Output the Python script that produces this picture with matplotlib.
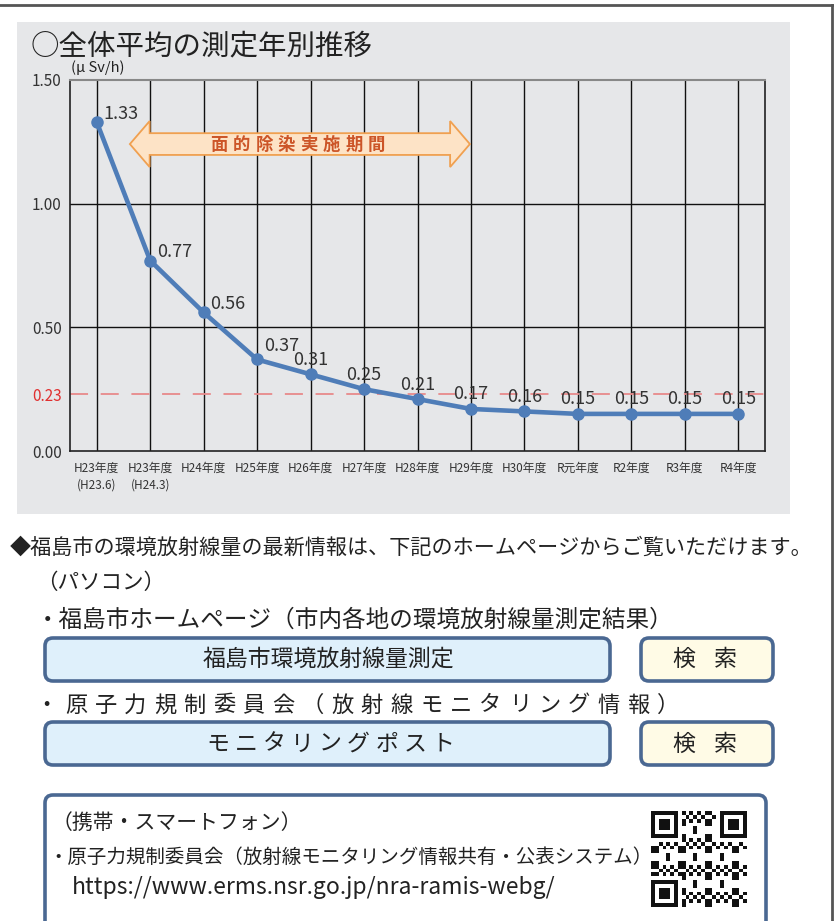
import numpy as np
import matplotlib.pyplot as plt
from matplotlib.patches import Rectangle, FancyBboxPatch, Polygon

plt.rcParams['font.family'] = ['Noto Sans CJK JP', 'DejaVu Sans']

# data
categories = ['H23年度\n(H23.6)', 'H23年度\n(H24.3)', 'H24年度', 'H25年度', 'H26年度',
              'H27年度', 'H28年度', 'H29年度', 'H30年度', 'R元年度', 'R2年度', 'R3年度', 'R4年度']
values = [1.33, 0.77, 0.56, 0.37, 0.31, 0.25, 0.21, 0.17, 0.16, 0.15, 0.15, 0.15, 0.15]
yticks = [0.0, 0.23, 0.5, 1.0, 1.5]
guide_value = 0.23
period_label = '面的除染実施期間'

W, H = 839, 921
fig = plt.figure(figsize=(W / 100, H / 100), dpi=100)

# background layer in pixel coordinates
bg = fig.add_axes([0, 0, 1, 1], zorder=0)
bg.set_xlim(0, W)
bg.set_ylim(H, 0)
bg.axis('off')

# page frame
bg.plot([0, 832], [5, 5], color='#555555', lw=2)
bg.plot([832, 832], [5, H], color='#555555', lw=2)

# gray panel
bg.add_patch(Rectangle((17, 22), 773, 492, facecolor='#e6e7e9', edgecolor='none'))

bg.text(31, 46, '○全体平均の測定年別推移', fontsize=20.5, va='center', ha='left', color='#222222')
bg.text(71, 68, '(μ Sv/h)', fontsize=10.5, va='center', ha='left', color='#222222')


def spaced(txt, x0, step, y, size, **kw):
    for i, ch in enumerate(txt):
        bg.text(x0 + i * step, y, ch, fontsize=size, ha='center', va='center', **kw)


def rbox(x, y, w, h, fc):
    bg.add_patch(FancyBboxPatch((x, y), w, h, boxstyle='round,pad=0,rounding_size=8',
                                facecolor=fc, edgecolor='#4a6892', lw=2.6))


# text below the chart
bg.text(10, 548, '◆福島市の環境放射線量の最新情報は、下記のホームページからご覧いただけます。',
        fontsize=15.2, va='center', ha='left', color='#222222')
bg.text(36, 583, '（パソコン）', fontsize=15.5, va='center', ha='left', color='#222222')
bg.text(36, 620, '・福島市ホームページ（市内各地の環境放射線量測定結果）', fontsize=17,
        va='center', ha='left', color='#222222')

rbox(45, 638, 565, 43, '#dff0fb')
bg.text(328, 659, '福島市環境放射線量測定', fontsize=16.5, va='center', ha='center', color='#222222')
rbox(641, 638, 132, 43, '#fffbe6')
spaced('検索', 684, 41, 659, 16.5, color='#222222')

spaced('・原子力規制委員会（放射線モニタリング情報）', 46.4, 29.6, 705, 16, color='#222222')

rbox(45, 722, 565, 43, '#dff0fb')
spaced('モニタリングポスト', 218, 28.1, 744, 16.5, color='#222222')
rbox(641, 722, 132, 43, '#fffbe6')
spaced('検索', 684, 41, 744, 16.5, color='#222222')

rbox(45, 795, 721, 160, '#ffffff')
bg.text(52, 823, '（携帯・スマートフォン）', fontsize=15, va='center', ha='left', color='#222222')
bg.text(48, 857, '・原子力規制委員会（放射線モニタリング情報共有・公表システム）', fontsize=14,
        va='center', ha='left', color='#222222')
bg.text(72, 887, 'https://www.erms.nsr.go.jp/nra-ramis-webg/', fontsize=16.5,
        va='center', ha='left', color='#222222')

# QR-like code block
n = 25
qx, qy, cell = 651, 811, 96 / n
grid = np.zeros((n, n), dtype=bool)
for i in range(n):
    for j in range(n):
        grid[i, j] = ((i * i * 3 + j * j * 5 + i * j * 7 + i + 2 * j) % 7) < 3
for (r0, c0) in [(0, 0), (0, n - 7), (n - 7, 0)]:
    for r in range(-1, 8):
        for c in range(-1, 8):
            rr, cc = r0 + r, c0 + c
            if 0 <= rr < n and 0 <= cc < n:
                ring = max(abs(r - 3), abs(c - 3))
                grid[rr, cc] = ring in (0, 1, 3)
for i in range(n):
    for j in range(n):
        if grid[i, j]:
            bg.add_patch(Rectangle((qx + j * cell, qy + i * cell), cell, cell,
                                   facecolor='#111111', edgecolor='none'))

# chart axes
ax = fig.add_axes([70 / W, 1 - 451 / H, 695 / W, 371 / H], zorder=1)
ax.set_facecolor('#e6e7e9')
x = np.arange(len(categories))
ax.set_xlim(-0.5, len(categories) - 0.5)
ax.set_ylim(0, 1.5)

for xi in x:
    ax.axvline(xi, color='#111111', lw=1, zorder=1)
for yv in [0.5, 1.0]:
    ax.axhline(yv, color='#111111', lw=1, zorder=1)
ax.axhline(guide_value, xmin=0, xmax=1.015, color='#e8898a', lw=1.3,
           dashes=(10, 7), clip_on=False, zorder=2)

ax.plot(x, values, color='#4f7db8', lw=3.3, marker='o', markersize=8, zorder=4)
for i, v in enumerate(values):
    if i < 4:
        ax.annotate('%.2f' % v, (x[i], v), xytext=(5, 6 if i < 3 else 10), textcoords='offset points',
                    ha='left', va='center', fontsize=13, color='#333333', zorder=5)
    else:
        ax.annotate('%.2f' % v, (x[i], v), xytext=(0, 4), textcoords='offset points',
                    ha='center', va='bottom', fontsize=13, color='#333333', zorder=5)

# decontamination period arrow
x0, x1, yc = 0.62, 6.98, 1.241
bh, hh, hl = 0.044, 0.093, 0.37
arrow = Polygon([[x0, yc], [x0 + hl, yc + hh], [x0 + hl, yc + bh], [x1 - hl, yc + bh],
                 [x1 - hl, yc + hh], [x1, yc], [x1 - hl, yc - hh], [x1 - hl, yc - bh],
                 [x0 + hl, yc - bh], [x0 + hl, yc - hh]], closed=True,
                facecolor='#fde3c6', edgecolor='#f0a050', lw=1.3, zorder=3)
ax.add_patch(arrow)
for i, ch in enumerate(period_label):
    ax.text(2.29 + i * 0.42, yc - 0.004, ch, fontsize=12.5, fontweight='bold', color='#cc5528',
            ha='center', va='center', zorder=4)

ax.set_xticks(x)
ax.set_xticklabels(categories, fontsize=8.5, color='#333333', linespacing=1.3)
ax.set_yticks(yticks)
ax.set_yticklabels(['%.2f' % t for t in yticks], fontsize=11, color='#333333')
ax.get_yticklabels()[1].set_color('#e03030')
ax.tick_params(axis='both', length=0)
ax.tick_params(axis='x', pad=8)
ax.tick_params(axis='y', pad=6)
for s in ['left', 'right', 'bottom']:
    ax.spines[s].set_color('#222222')
    ax.spines[s].set_linewidth(1.2)
ax.spines['top'].set_color('#888888')
ax.spines['top'].set_linewidth(1.5)

fig.savefig('out.png', dpi=100)
